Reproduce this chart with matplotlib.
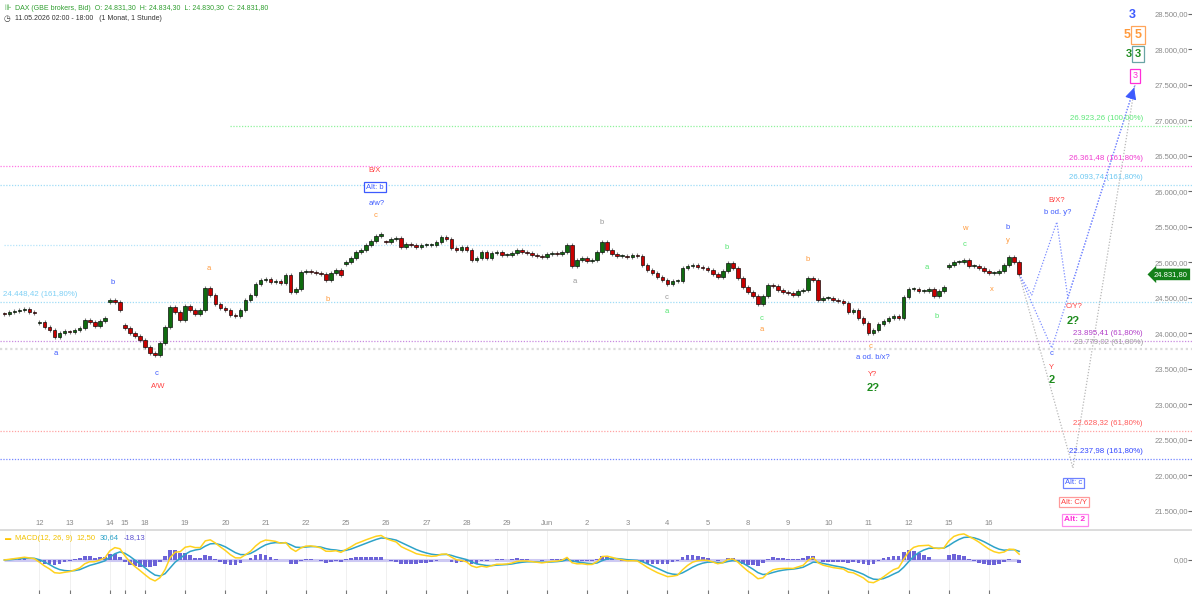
import numpy as np
import pandas as pd
import matplotlib
matplotlib.use('Agg')
import matplotlib.pyplot as plt
from matplotlib.transforms import blended_transform_factory

plt.rcParams['font.family'] = ['Liberation Sans', 'DejaVu Sans']

# DAX sessions: first value = session open, then 2-hour closes
day_names = ['11', '12', '13', '14', '15', '18', '19', '20', '21', '22', '25', '26', '27', '28',
             '29', 'Jun', '2', '3', '4', '5', '8', '9', '10', '11', '12', '15', '16']
sessions = [
    [24280, 24274, 24303, 24317, 24331, 24345, 24303, 24289],
    [24150, 24162, 24092, 24049, 23951, 24007, 24035],
    [24030, 24021, 24049, 24077, 24190, 24162, 24106, 24176, 24218],
    [24443, 24472, 24443, 24331],
    [24120, 24077, 24007, 23964, 23905],
    [23905, 23810, 23725, 23697, 23865, 24092, 24373, 24303, 24190],
    [24190, 24387, 24331, 24274, 24331, 24641, 24542, 24415, 24359],
    [24359, 24331, 24260, 24246, 24331, 24472, 24542, 24697, 24753],
    [24753, 24767, 24725, 24739, 24711, 24824, 24584, 24627, 24866],
    [24866, 24880, 24866, 24852, 24838, 24753, 24852, 24894, 24824],
    [24976, 25004, 25063, 25148, 25176, 25246, 25303, 25373, 25401],
    [25290, 25288, 25331, 25345, 25218, 25260, 25246, 25218, 25246],
    [25246, 25246, 25246, 25288, 25359, 25331, 25204, 25176, 25218],
    [25218, 25176, 25035, 25063, 25148, 25063, 25134, 25148, 25106],
    [25106, 25106, 25134, 25176, 25148, 25134, 25106, 25092, 25078],
    [25078, 25120, 25134, 25120, 25148, 25246, 24950, 25035, 25063],
    [25063, 25021, 25035, 25148, 25288, 25176, 25120, 25092, 25092],
    [25092, 25078, 25106, 25092, 24962, 24894, 24852, 24795, 24753],
    [24753, 24697, 24739, 24739, 24922, 24950, 24965, 24936, 24922],
    [24922, 24894, 24838, 24795, 24880, 24993, 24922, 24782, 24655],
    [24655, 24584, 24528, 24415, 24528, 24683, 24669, 24613, 24584],
    [24584, 24567, 24542, 24598, 24613, 24782, 24753, 24472, 24500],
    [24500, 24500, 24472, 24458, 24430, 24303, 24331, 24218, 24148],
    [24148, 24007, 24049, 24134, 24176, 24218, 24246, 24218, 24514],
    [24514, 24627, 24627, 24598, 24598, 24627, 24528, 24598, 24655],
    [24933, 24965, 25007, 25007, 25035, 24950, 24950, 24922, 24880],
    [24880, 24852, 24852, 24880, 24965, 25078, 25007, 24831.8],
]
hours_per_bar = 2

# Fibonacci levels
level_prices = [26923.26, 26361.48, 26093.74, 24448.42, 23895.41, 23779.02, 22628.32, 22237.98]
level_pcts = ['100,00%', '161,80%', '161,80%', '161,80%', '61,80%', '61,80%', '61,80%', '161,80%']
level_colors = ['#8ff29c', '#ff77e4', '#9fdcf7', '#9fdcf7', '#c98ae0', '#dcdcdc', '#ffa3a3', '#7486ff']
level_text_colors = ['#5ee87a', '#f03cd0', '#6cc8f2', '#7fd0f5', '#b23fc8', '#a0a0a0', '#ff5a5a', '#3348ff']
level_start = [45, None, None, None, None, None, None, None]
aux_level = 25240
aux_span = [0, 106.6]

# projected paths (bar, price)
path_a_x = [202, 204.5, 209.5, 211.7, 225.05]
path_a_y = [24831.8, 24542, 25570, 24500, 27500]
path_b_x = [202, 208.5, 225.05]
path_b_y = [24831.8, 23795, 27500]
path_c_x = [202, 212.7, 225.05]
path_c_y = [24831.8, 22105, 27500]

BLUE = '#3d5afe'
RED = '#ff4040'
ORANGE = '#ff9a3c'
LGREEN = '#55e672'
GREY = '#9a9a9a'
DGREEN = '#1e8c1e'
MAGENTA = '#ff2ed8'

wave_labels = [
    ('b', 21.6, 24711, BLUE), ('a', 10.3, 23711, BLUE), ('c', 30.4, 23443, BLUE),
    ('A/W', 30.6, 23260, RED), ('a', 40.7, 24922, ORANGE), ('b', 64.4, 24472, ORANGE),
    ('B/X', 73.6, 26289, RED), ('a/w?', 74.2, 25824, BLUE), ('c', 73.8, 25655, ORANGE),
    ('b', 118.8, 25570, GREY), ('a', 113.6, 24739, GREY), ('c', 131.9, 24500, GREY),
    ('a', 131.9, 24303, LGREEN), ('b', 143.8, 25218, LGREEN), ('c', 150.8, 24204, LGREEN),
    ('a', 150.8, 24049, ORANGE), ('b', 159.8, 25035, ORANGE), ('c', 172.5, 23810, ORANGE),
    ('a od. b/x?', 172.9, 23655, BLUE), ('Y?', 172.9, 23429, RED),
    ('a', 183.6, 24936, LGREEN), ('b', 185.6, 24246, LGREEN),
    ('w', 191.2, 25472, ORANGE), ('c', 191.2, 25260, LGREEN),
    ('b', 199.8, 25486, BLUE), ('y', 199.8, 25303, ORANGE), ('x', 196.6, 24613, ORANGE),
    ('B/X?', 209.5, 25866, RED), ('b od. y?', 209.7, 25697, BLUE),
    ('C/Y?', 212.9, 24373, RED), ('c', 208.5, 23711, BLUE), ('Y', 208.5, 23514, RED),
]
bold_labels = [
    ('2?', 172.9, 23232, DGREEN, 8), ('2?', 212.8, 24176, DGREEN, 8), ('2', 208.5, 23345, DGREEN, 8),
    ('3', 224.5, 28486, BLUE, 9), ('5', 223.5, 28204, ORANGE, 9), ('3', 223.85, 27937, DGREEN, 8),
]
box_labels = [
    # text, bar, price, text colour, edge colour, size, bold
    ('Alt: b', 73.8, 26063, BLUE, BLUE, 5.5, False),
    ('Alt: c', 212.9, 21894, BLUE, '#6f82ff', 5.5, False),
    ('Alt: C/Y', 212.9, 21626, RED, '#ff9a9a', 5.5, False),
    ('Alt: 2', 213.1, 21373, MAGENTA, '#ff86ee', 6, True),
    ('5', 225.65, 28204, ORANGE, '#ffa55a', 9, True),
    ('3', 225.65, 27937, DGREEN, '#6aa5a5', 8, True),
    ('3', 225.05, 27627, MAGENTA, MAGENTA, 6.5, False),
]

# ---- build OHLC
opens, closes, day_start = [], [], []
for s in sessions:
    day_start.append(len(closes))
    o = s[0]
    for c in s[1:]:
        opens.append(o)
        closes.append(c)
        o = c
opens = np.array(opens, float)
closes = np.array(closes, float)
n = len(closes)
x = np.arange(n)

close_s = pd.Series(closes)
ema_fast = close_s.ewm(span=12 / hours_per_bar, adjust=False).mean()
ema_slow = close_s.ewm(span=26 / hours_per_bar, adjust=False).mean()
macd = ema_fast - ema_slow
signal = macd.ewm(span=9 / hours_per_bar, adjust=False).mean()
hist = macd - signal


def de(v):
    return f"{v:,.2f}".replace(',', ' ').replace('.', ',').replace(' ', '.')


W, H = 1192, 594
X_LEFT = -0.86
X_RIGHT = X_LEFT + W / 5.024

fig = plt.figure(figsize=(W / 100, H / 100), dpi=100)
ax = fig.add_axes([0, 64 / H, 1, 530 / H])
axm = fig.add_axes([0, 0, 1, 64 / H])

ax.set_xlim(X_LEFT, X_RIGHT)
ax.set_ylim(21232, 28697)
for sp in ax.spines.values():
    sp.set_visible(False)

# levels
for p, pct, lc, tc, st in zip(level_prices, level_pcts, level_colors, level_text_colors, level_start):
    lw = 1.6 if lc == '#dcdcdc' else 0.9
    ax.hlines(p, X_LEFT if st is None else st, X_RIGHT, colors=lc, lw=lw,
              linestyles=(0, (1, 1.3)), zorder=1)
    label = f"{de(p)} ({pct})"
    if p == 24448.42:
        ax.annotate(label, (-0.26, p), xytext=(0, 2.5), textcoords='offset points',
                    ha='left', va='bottom', color=tc, fontsize=5.7, zorder=6)
    else:
        ax.annotate(label, (226.6, p), xytext=(0, 2.5), textcoords='offset points',
                    ha='right', va='bottom', color=tc, fontsize=5.7, zorder=6)
ax.hlines(aux_level, aux_span[0], aux_span[1], colors='#b5e4fa', lw=0.9,
          linestyles=(0, (1, 1.3)), zorder=1)

# candles
WICK = 25
up = closes >= opens
body_lo = np.minimum(opens, closes)
body_h = np.maximum(np.abs(closes - opens), 8)
ax.vlines(x, body_lo - WICK, body_lo + body_h + WICK, color='#7d7d7d', lw=0.8, zorder=3)
ax.bar(x, body_h, bottom=body_lo, width=0.72, color=np.where(up, '#0f6b0f', '#c80000'),
       edgecolor='black', lw=0.45, zorder=4)

# projections
ax.plot(path_c_x, path_c_y, color='#b8b8b8', lw=0.9, ls=(0, (1, 1.4)), zorder=2)
ax.plot(path_a_x, path_a_y, color='#7b8cff', lw=0.9, ls=(0, (1, 1.4)), zorder=2)
ax.plot(path_b_x, path_b_y, color='#7b8cff', lw=0.9, ls=(0, (1, 1.4)), zorder=2)
ex, ey = path_b_x[-1], path_b_y[-1]
bx, by = ex - 0.05 * (ex - path_b_x[-2]), ey - 0.05 * (ey - path_b_y[-2])
ax.annotate('', xy=(ex, ey), xytext=(bx, by),
            arrowprops=dict(arrowstyle='-|>,head_length=0.7,head_width=0.35',
                            color='#3d5afe', lw=0.8), zorder=5)

# wave labels
for t, bx_, py, c in wave_labels:
    ax.text(bx_, py, t, color=c, fontsize=5.5, ha='center', va='center', zorder=6)
for t, bx_, py, c, fs in bold_labels:
    ax.text(bx_, py, t, color=c, fontsize=fs, fontweight='bold', ha='center', va='center', zorder=6)
for t, bx_, py, c, ec, fs, b in box_labels:
    ax.text(bx_, py, t, color=c, fontsize=fs, fontweight='bold' if b else 'normal',
            ha='center', va='center', zorder=6,
            bbox=dict(boxstyle='square,pad=0.25', fc='white', ec=ec, lw=0.9))

# axes ticks
ax.set_xticks(day_start[1:])
ax.set_xticklabels(day_names[1:])
ax.tick_params(axis='x', length=0, pad=-7, labelsize=5.5, labelcolor='#8a8a8a')
yt = np.arange(21500, 28501, 500)
ax.yaxis.tick_right()
ax.set_yticks(yt)
ax.set_yticklabels([de(v) for v in yt], ha='right')
ax.tick_params(axis='y', direction='in', length=3, pad=-3, labelsize=5.5,
               labelcolor='#8a8a8a', color='#666666')

# last price tag
tr = blended_transform_factory(ax.transAxes, ax.transData)
ax.text(0.9965, closes[-1], de(closes[-1]), transform=tr, ha='right', va='center',
        color='white', fontsize=5.5, zorder=8,
        bbox=dict(boxstyle='larrow,pad=0.3', fc='#14801a', ec='none'))

# header
fig.text(4 / W, 1 - 8 / H, '\u22aa', color='#2f9e2f', fontsize=5.5, va='center',
         family=['DejaVu Sans'])
fig.text(15 / W, 1 - 8 / H,
         'DAX (GBE brokers, Bid)  O: 24.831,30  H: 24.834,30  L: 24.830,30  C: 24.831,80',
         color='#2f9e2f', fontsize=5, va='center')
fig.text(4 / W, 1 - 18 / H, '\u25f7', color='#333333', fontsize=5.5, va='center',
         family=['DejaVu Sans'])
fig.text(15 / W, 1 - 18 / H, '11.05.2026 02:00 - 18:00   (1 Monat, 1 Stunde)',
         color='#333333', fontsize=5, va='center')

# MACD panel
axm.set_xlim(X_LEFT, X_RIGHT)
top = 1.15 * max(np.abs(macd).max(), np.abs(signal).max())
axm.set_ylim(-top * 34 / 30, top)
axm.hlines(0, 0, n - 1, color='#cdc9f3', lw=2.2, zorder=1)
axm.bar(x, hist, width=0.75, color='#6c63d8', lw=0, zorder=2)
axm.plot(x, signal, color='#2ea3c8', lw=1.1, zorder=3)
axm.plot(x, macd, color='#ffd21f', lw=1.1, zorder=4)
for sp in ['left', 'right', 'bottom']:
    axm.spines[sp].set_visible(False)
axm.spines['top'].set_color('#d6d6d6')
axm.spines['top'].set_linewidth(1.2)
axm.set_xticks(day_start[1:])
axm.set_xticklabels([])
axm.tick_params(axis='x', direction='in', length=3, color='#777777')
axm.grid(axis='x', color='#eeeeee', lw=0.6)
axm.set_axisbelow(True)
axm.yaxis.tick_right()
axm.set_yticks([0])
axm.set_yticklabels(['0,00'], ha='right')
axm.tick_params(axis='y', direction='in', length=3, pad=-3, labelsize=5.5,
                labelcolor='#8a8a8a', color='#666666')

# MACD legend
lg = axm.annotate('\u25ac', xy=(5 / W, 1 - 8 / 64), xycoords='axes fraction',
                  color='#ffc400', fontsize=4.5, va='center', ha='left')
legend_parts = [('MACD(12, 26, 9)', '#f2c200'), ('12,50', '#f2c200'),
                ('30,64', '#2ea3c8'), ('-18,13', '#5a50d0')]
prev = lg
for txt, col in legend_parts:
    prev = axm.annotate(txt, xy=(1, 0.5), xycoords=prev, xytext=(3, 0),
                        textcoords='offset points', color=col, fontsize=5.5,
                        va='center', ha='left')

fig.savefig('out.png', dpi=100)
